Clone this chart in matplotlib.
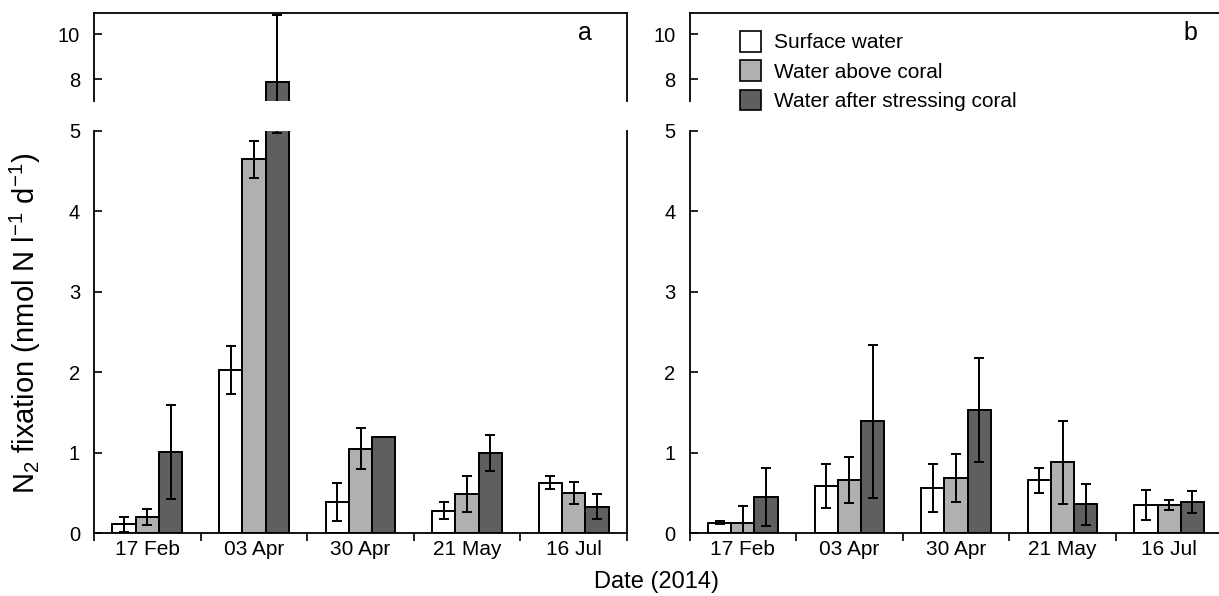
import numpy as np
import matplotlib.pyplot as plt
from matplotlib.patches import Patch

plt.rcParams['font.family'] = ['Liberation Sans', 'DejaVu Sans']
plt.rcParams['mathtext.fontset'] = 'custom'
plt.rcParams['mathtext.rm'] = 'Liberation Sans'
plt.rcParams['mathtext.it'] = 'Liberation Sans:italic'

# ── data ──────────────────────────────────────────────────────────────────────
dates = ["17 Feb", "03 Apr", "30 Apr", "21 May", "16 Jul"]
series = ["Surface water", "Water above coral", "Water after stressing coral"]
colors = ["white", "#b0b0b0", "#5f5f5f"]

# panel a
a_surface = [0.11, 2.03, 0.39, 0.28, 0.63]
a_surface_err = [0.09, 0.30, 0.24, 0.105, 0.085]
a_above = [0.20, 4.65, 1.05, 0.49, 0.50]
a_above_err = [0.10, 0.23, 0.255, 0.225, 0.14]
a_stress = [1.01, 7.90, 1.20, 1.00, 0.33]
a_stress_err = [0.585, 2.93, 0.0, 0.225, 0.155]

# panel b
b_surface = [0.13, 0.59, 0.56, 0.66, 0.35]
b_surface_err = [0.02, 0.275, 0.30, 0.155, 0.19]
b_above = [0.13, 0.66, 0.69, 0.88, 0.35]
b_above_err = [0.21, 0.285, 0.295, 0.515, 0.06]
b_stress = [0.45, 1.39, 1.53, 0.36, 0.39]
b_stress_err = [0.36, 0.95, 0.645, 0.255, 0.14]

panels = {
    "a": ([a_surface, a_above, a_stress], [a_surface_err, a_above_err, a_stress_err]),
    "b": ([b_surface, b_above, b_stress], [b_surface_err, b_above_err, b_stress_err]),
}

W, H = 1219, 596
fig = plt.figure(figsize=(W / 100, H / 100), dpi=100)

# ── layout in pixels ──────────────────────────────────────────────────────────
lefts = {"a": 94, "b": 689.5}
letter_x = {"a": 585, "b": 1190}
ax_w = 533
low_bot, low_top = 533.3, 131
up_bot, up_top = 101, 12.5

x = np.arange(len(dates))
bar_w = 0.218


def draw_bars(ax, vals, errs):
    for k in range(3):
        pos = x + (k - 1) * bar_w
        ax.bar(pos, vals[k], width=bar_w, color=colors[k], edgecolor="black",
               linewidth=1.4, zorder=2)
        e = np.array(errs[k])
        m = e > 0
        ax.errorbar(pos[m], np.array(vals[k])[m], yerr=e[m], fmt="none",
                    ecolor="black", elinewidth=1.4, capsize=3.5, capthick=1.4, zorder=3)


for name, (vals, errs) in panels.items():
    left = lefts[name] / W
    w = ax_w / W
    ax_lo = fig.add_axes([left, 1 - low_bot / H, w, (low_bot - low_top) / H])
    ax_up = fig.add_axes([left, 1 - up_bot / H, w, (up_bot - up_top) / H])

    draw_bars(ax_lo, vals, errs)
    draw_bars(ax_up, vals, errs)

    # lower axes
    ax_lo.set_xlim(-0.5, 4.5)
    ax_lo.set_ylim(0, 5)
    ax_lo.spines["top"].set_visible(False)
    ax_lo.set_yticks(range(6))
    ax_lo.tick_params(axis="y", direction="in", length=6, width=1.2, labelsize=14.5, pad=10)
    ax_lo.set_xticks(np.arange(-0.5, 5.0, 1.0))
    ax_lo.set_xticklabels([])
    ax_lo.set_xticks(x, minor=True)
    ax_lo.set_xticklabels(dates, minor=True)
    ax_lo.tick_params(axis="x", which="major", direction="out", length=6, width=1.2)
    ax_lo.tick_params(axis="x", which="minor", length=0, labelsize=15, pad=5)

    # upper axes (broken part)
    ax_up.set_xlim(-0.5, 4.5)
    ax_up.set_ylim(7.05, 10.95)
    ax_up.spines["bottom"].set_visible(False)
    ax_up.set_xticks([])
    ax_up.set_yticks([8, 10])
    ax_up.tick_params(axis="y", direction="in", length=6, width=1.2, labelsize=14.5, pad=10)

    for a in (ax_lo, ax_up):
        for s in a.spines.values():
            s.set_linewidth(1.3)

    fig.text(letter_x[name] / W, 1 - 33 / H, name, fontsize=18, ha="center", va="center")

fig.text(25 / W, 1 - 323 / H, "N$_2$ fixation (nmol N l$^{-1}$ d$^{-1}$)",
         rotation=90, ha="center", va="center", fontsize=21)
fig.text(657 / W, 1 - 582 / H, "Date (2014)", ha="center", va="center", fontsize=17)

handles = [Patch(facecolor=c, edgecolor="black", linewidth=1.2) for c in colors]
fig.legend(handles, series, loc="upper left", bbox_to_anchor=(740 / W, 1 - 31 / H),
           frameon=False, borderaxespad=0, borderpad=0, fontsize=15,
           handlelength=1.0, handleheight=1.15, handletextpad=0.65, labelspacing=0.38)

plt.savefig("out.png", dpi=100)
